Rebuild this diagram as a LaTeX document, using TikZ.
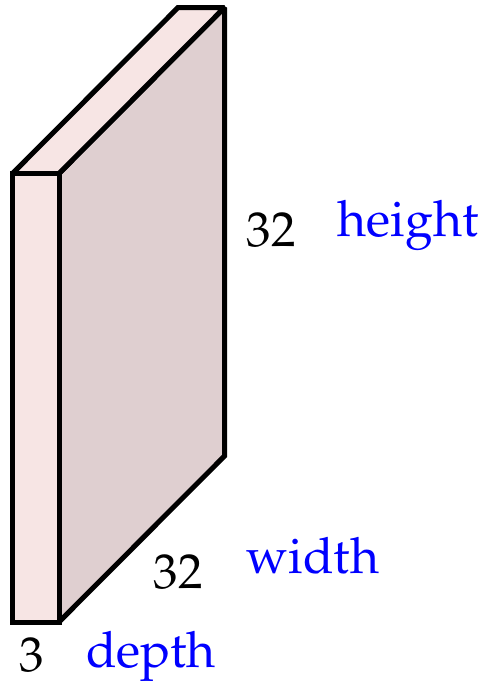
\documentclass[tikz,border=0pt]{standalone}
\usepackage[T1]{fontenc}
\usepackage{mathpazo}
\usetikzlibrary{positioning}
\definecolor{edge}{HTML}{000000}
\definecolor{frontface}{HTML}{F7E5E4}
\definecolor{sideface}{HTML}{DFCFD0}
\definecolor{dimname}{HTML}{0000FF}
\tikzset{
  faceline/.style={line width=5pt, draw=edge, line join=miter, miter limit=2},
  numlbl/.style={font=\fontsize{49}{58}\selectfont, text=edge, anchor=base, inner sep=0pt},
  namelbl/.style={font=\fontsize{50}{60}\selectfont, text=dimname, anchor=base, inner sep=0pt}
}

\begin{document}
\begin{tikzpicture}[x=1pt, y=-1pt]

  % ---- Page --------------------------------------------------------------
  \useasboundingbox (0, 0) rectangle (489, 681);

  % ---- Corners of the slab -----------------------------------------------
  \coordinate (ftl) at (12.5, 173.5);
  \coordinate (ftr) at (59, 173.5);
  \coordinate (fbl) at (12.5, 622);
  \coordinate (fbr) at (59, 622);
  \coordinate (btl) at (178, 7.5);
  \coordinate (btr) at (224.5, 7.5);
  \coordinate (bbr) at (224.5, 456);

  % ---- Faces -------------------------------------------------------------
  \filldraw[faceline, fill=sideface] (ftr) -- (btr) -- (bbr) -- (fbr) -- cycle;
  \filldraw[faceline, fill=frontface] (ftl) -- (btl) -- (btr) -- (ftr) -- cycle;
  \filldraw[faceline, fill=frontface] (ftl) -- (ftr) -- (fbr) -- (fbl) -- cycle;

  % ---- Sizes and names ---------------------------------------------------
  \node[numlbl]  (hnum)  at (271, 246) {32};
  \node[namelbl] (hname) at (408, 236) {height};
  \node[numlbl]  (wnum)  at (178, 588) {32};
  \node[namelbl] (wname) at (313, 573) {width};
  \node[numlbl]  (dnum)  at (32, 671)  {3};
  \node[namelbl] (dname) at (151, 667) {depth};

\end{tikzpicture}
\end{document}
